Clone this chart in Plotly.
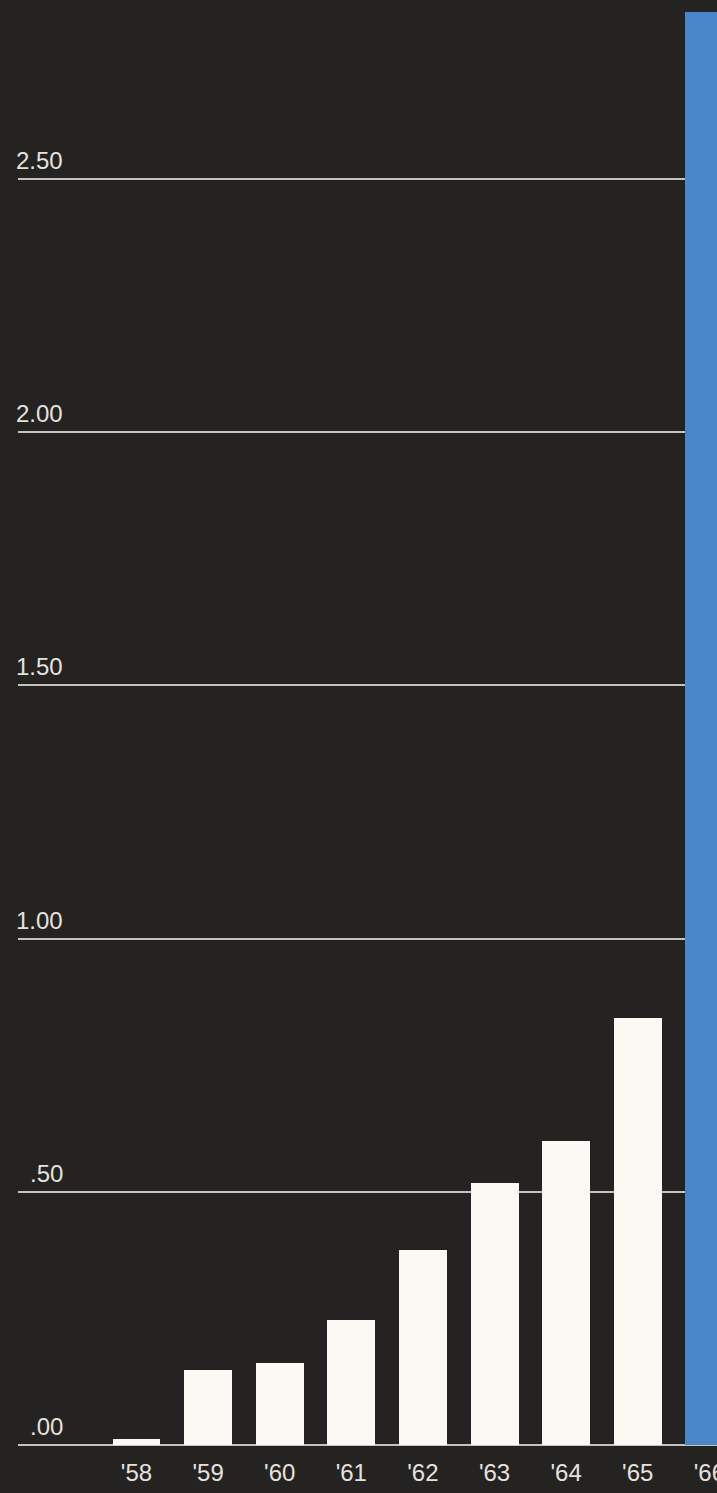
import plotly.graph_objects as go

years = ["'58", "'59", "'60", "'61", "'62", "'63", "'64", "'65", "'66"]
values = [0.012, 0.149, 0.162, 0.247, 0.384, 0.518, 0.601, 0.843, 2.83]
bar_colors = ["#fbf9f3"] * 8 + ["#4a87c9"]
y_ticks = [0.0, 0.5, 1.0, 1.5, 2.0, 2.5]
y_tick_labels = [".00", ".50", "1.00", "1.50", "2.00", "2.50"]

BG = "#252222"
TXT = "#e4e2df"
FONT = "Liberation Sans, Arial, sans-serif"

x_idx = list(range(len(years)))

fig = go.Figure()
fig.add_trace(go.Bar(
    x=x_idx, y=values, width=0.67,
    marker=dict(color=bar_colors, line=dict(width=0)),
    showlegend=False, hoverinfo="skip",
))

W, H = 717, 1493
ml, mr, mt, mb = 18, 0, 0, 46
plot_w = W - ml - mr

annotations = []
label_right_px = 65
for v, t in zip(y_ticks, y_tick_labels):
    annotations.append(dict(
        x=(label_right_px - ml) / plot_w, xref="paper", xanchor="right",
        y=v, yref="y", yanchor="bottom", yshift=3,
        text=t, showarrow=False,
        font=dict(family=FONT, size=24, color=TXT),
    ))

fig.update_layout(
    width=W, height=H,
    margin=dict(l=ml, r=mr, t=mt, b=mb, pad=0, autoexpand=False),
    paper_bgcolor=BG, plot_bgcolor=BG,
    bargap=0,
    annotations=annotations,
    xaxis=dict(
        range=[-1.655, 8.107],
        tickmode="array", tickvals=x_idx, ticktext=years,
        showgrid=False, zeroline=False, showline=False,
        ticks="outside", ticklen=4, tickcolor="rgba(0,0,0,0)",
        ticklabeloverflow="allow", automargin=False,
        tickfont=dict(family=FONT, size=24, color=TXT),
        fixedrange=True,
    ),
    yaxis=dict(
        range=[-0.004, 2.853],
        tickmode="array", tickvals=y_ticks,
        showticklabels=False, automargin=False,
        showgrid=True, gridcolor="#c4c2bf", gridwidth=2,
        zeroline=False, showline=False,
        fixedrange=True,
    ),
)

fig.write_html("out.html")
